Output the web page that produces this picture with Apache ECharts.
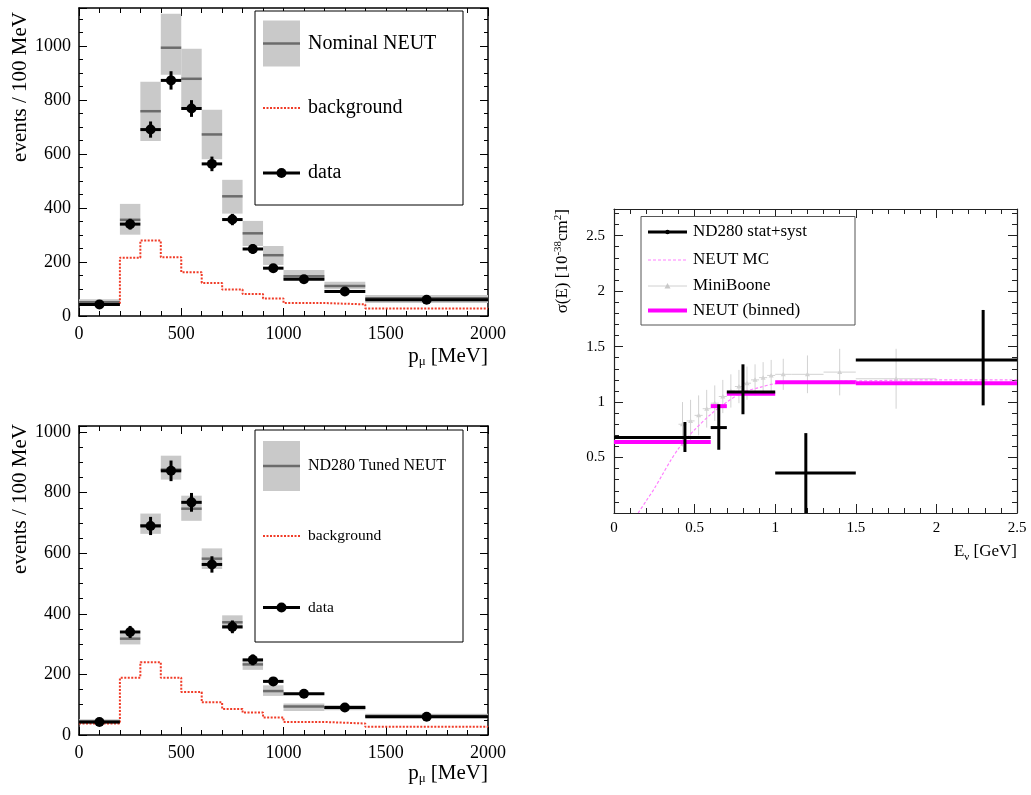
<!DOCTYPE html>
<html>
<head>
<meta charset="utf-8">
<script src="https://cdn.jsdelivr.net/npm/echarts@6/dist/echarts.min.js"></script>
<style>
  html, body { margin: 0; padding: 0; background: #ffffff; }
  #chart { width: 1031px; height: 795px; }
</style>
</head>
<body>
<div id="chart"></div>
<script>
// ---- muon momentum histograms (MeV), bins of the selected sample ----
const binEdges = [0, 200, 300, 400, 500, 600, 700, 800, 900, 1000, 1200, 1400, 2000];

// measured events per bin and their statistical errors
const dataCounts = [43, 340, 690, 872, 768, 563, 357, 248, 177, 136, 91, 60];
const dataErrors = [7, 20, 30, 34, 31, 27, 21, 18, 13, 12, 10, 8];

// nominal NEUT prediction with its systematic band
const nominalNeut = [51, 356, 758, 993, 878, 672, 443, 306, 225, 147, 111, 66];
const nominalLow  = [40, 301, 648, 893, 772, 580, 379, 259, 189, 133, 99, 48];
const nominalHigh = [62, 415, 867, 1119, 989, 763, 504, 352, 259, 170, 127, 78];
const nominalBackground = [41, 216, 279, 217, 162, 122, 98, 81, 65, 48, 43, 28];

// ND280-tuned NEUT prediction with its band
const tunedNeut = [44, 318, 692, 876, 747, 582, 372, 233, 145, 94, 90, 63];
const tunedLow  = [36, 299, 664, 843, 707, 548, 350, 215, 129, 79, 82, 55];
const tunedHigh = [52, 335, 731, 922, 790, 616, 395, 249, 164, 104, 99, 70];
const tunedBackground = [38, 189, 240, 189, 142, 108, 86, 74, 58, 43, 38, 27];

// ---- cross section vs neutrino energy (GeV, 1e-38 cm^2) ----
const nd280BinLow  = [0.0, 0.6, 0.7, 1.0, 1.5];
const nd280BinHigh = [0.6, 0.7, 1.0, 1.5, 2.5];
const nd280Energy  = [0.44, 0.65, 0.80, 1.19, 2.29];
const nd280Sigma   = [0.68, 0.77, 1.09, 0.36, 1.38];
const nd280ErrUp   = [0.14, 0.21, 0.25, 0.36, 0.45];
const nd280ErrDown = [0.13, 0.20, 0.20, 0.36, 0.41];

const neutBinnedEdges = [0.0, 0.6, 0.7, 1.0, 1.5, 2.5];
const neutBinnedSigma = [0.64, 0.963, 1.075, 1.178, 1.17];

const neutMcEnergy = [0.15, 0.2, 0.25, 0.3, 0.35, 0.4, 0.45, 0.5, 0.6, 0.7, 0.8, 0.9, 1.0, 1.2, 1.5, 2.0, 2.5];
const neutMcSigma  = [0.0, 0.11, 0.22, 0.345, 0.47, 0.58, 0.67, 0.75, 0.89, 1.0, 1.09, 1.13, 1.165, 1.18, 1.19, 1.2, 1.2];

const mbBinEdges = [0.4, 0.45, 0.5, 0.55, 0.6, 0.65, 0.7, 0.75, 0.8, 0.85, 0.9, 0.95, 1.0, 1.1, 1.3, 1.5, 2.0];
const mbSigma = [0.80, 0.83, 0.88, 0.94, 0.99, 1.05, 1.10, 1.14, 1.17, 1.20, 1.22, 1.24, 1.25, 1.25, 1.27, 1.21];
const mbError = [0.20, 0.19, 0.18, 0.17, 0.16, 0.15, 0.15, 0.15, 0.15, 0.14, 0.14, 0.14, 0.14, 0.17, 0.21, 0.27];

const SERIF = "'Liberation Serif', 'DejaVu Serif', serif";
const MAGENTA = '#ff00ff';

// ---------- helpers that turn the arrays into series data ----------
function bandRows(central, low, high) {
  return central.map((c, i) => [binEdges[i], binEdges[i + 1], low[i], high[i], c]);
}
function stepRows(values) {
  const rows = values.map((v, i) => [binEdges[i], v]);
  rows.push([binEdges[binEdges.length - 1], values[values.length - 1]]);
  return rows;
}
function dataRows() {
  return dataCounts.map((v, i) => [binEdges[i], binEdges[i + 1], (binEdges[i] + binEdges[i + 1]) / 2, v, dataErrors[i], dataErrors[i]]);
}

function renderBand(params, api) {
  const x0 = api.value(0), x1 = api.value(1);
  const pTop = api.coord([x0, api.value(3)]);
  const pBot = api.coord([x1, api.value(2)]);
  const m0 = api.coord([x0, api.value(4)]);
  const m1 = api.coord([x1, api.value(4)]);
  return {
    type: 'group',
    children: [
      { type: 'rect', shape: { x: pTop[0], y: pTop[1], width: pBot[0] - pTop[0], height: pBot[1] - pTop[1] },
        style: { fill: '#c9c9c9' } },
      { type: 'line', shape: { x1: m0[0], y1: m0[1], x2: m1[0], y2: m1[1] },
        style: { stroke: '#6b6b6b', lineWidth: 2.5 } }
    ]
  };
}

function crossRenderer(color, width, markerR, markerShape) {
  return function (params, api) {
    const xl = api.value(0), xh = api.value(1), xc = api.value(2);
    const y = api.value(3), eDown = api.value(4), eUp = api.value(5);
    const a = api.coord([xl, y]), b = api.coord([xh, y]);
    const top = api.coord([xc, y + eUp]), bot = api.coord([xc, y - eDown]);
    const c = api.coord([xc, y]);
    const children = [
      { type: 'line', shape: { x1: a[0], y1: a[1], x2: b[0], y2: b[1] }, style: { stroke: color, lineWidth: width } },
      { type: 'line', shape: { x1: top[0], y1: top[1], x2: bot[0], y2: bot[1] }, style: { stroke: color, lineWidth: width } }
    ];
    if (markerShape === 'circle') {
      children.push({ type: 'circle', shape: { cx: c[0], cy: c[1], r: markerR }, style: { fill: color } });
    } else if (markerShape === 'triangle') {
      children.push({ type: 'polygon', shape: { points: [[c[0], c[1] - markerR], [c[0] - markerR, c[1] + markerR * 0.8], [c[0] + markerR, c[1] + markerR * 0.8]] },
        style: { fill: color } });
    }
    return { type: 'group', children: children };
  };
}

function renderSegment(params, api) {
  const a = api.coord([api.value(0), api.value(2)]);
  const b = api.coord([api.value(1), api.value(2)]);
  return { type: 'line', shape: { x1: a[0], y1: a[1], x2: b[0], y2: b[1] }, style: { stroke: MAGENTA, lineWidth: 4 } };
}

// ---------- axes: labelled bottom/left, mirrored ticks on top/right ----------
function axis(gridIndex, position, cfg, labelled) {
  return {
    type: 'value', gridIndex: gridIndex, position: position,
    min: cfg.min, max: cfg.max, interval: cfg.interval,
    splitLine: { show: false },
    axisLine: { show: true, onZero: false, lineStyle: { color: cfg.color, width: cfg.lineWidth } },
    axisTick: { show: true, inside: true, length: cfg.tick, lineStyle: { color: cfg.color, width: 1 } },
    minorTick: { show: true, splitNumber: cfg.minor, length: cfg.minorTick, lineStyle: { color: cfg.color, width: 1 } },
    axisLabel: {
      show: labelled, color: '#000', fontFamily: SERIF, fontSize: cfg.fontSize, margin: cfg.margin,
      showMaxLabel: cfg.showMax, formatter: cfg.formatter || (v => String(v))
    }
  };
}

const histX = { min: 0, max: 2000, interval: 500, minor: 5, tick: 8, minorTick: 5, color: '#000', lineWidth: 1.5, fontSize: 18, margin: 9, showMax: true };
const topY = { min: 0, max: 1140, interval: 200, minor: 4, tick: 8, minorTick: 4, color: '#000', lineWidth: 1.5, fontSize: 18, margin: 8, showMax: false };
const botY = { min: 0, max: 1020, interval: 200, minor: 4, tick: 8, minorTick: 4, color: '#000', lineWidth: 1.5, fontSize: 18, margin: 8, showMax: false };
const xsecX = { min: 0, max: 2.5, interval: 0.5, minor: 5, tick: 9, minorTick: 5, color: '#222', lineWidth: 1.2, fontSize: 15, margin: 8, showMax: true };
const xsecY = { min: 0, max: 2.74, interval: 0.5, minor: 5, tick: 9, minorTick: 5, color: '#222', lineWidth: 1.2, fontSize: 15, margin: 9, showMax: false,
  formatter: v => (v === 0 ? '' : String(v)) };

// ---------- legends and axis titles ----------
function legendBlock(top, height, label, labelSize, otherSize, rowY, boxH) {
  return [
    { type: 'rect', shape: { x: 255, y: top, width: 208, height: height }, style: { fill: '#fff', stroke: '#000', lineWidth: 1 }, z: 10 },
    { type: 'rect', shape: { x: 263, y: rowY[0] - boxH / 2, width: 37, height: boxH }, style: { fill: '#c9c9c9' }, z: 11 },
    { type: 'line', shape: { x1: 263, y1: rowY[0], x2: 300, y2: rowY[0] }, style: { stroke: '#6b6b6b', lineWidth: 2.5 }, z: 12 },
    { type: 'text', x: 308, y: rowY[0], style: { text: label, fontFamily: SERIF, fontSize: labelSize, fill: '#000', verticalAlign: 'middle' }, z: 12 },
    { type: 'line', shape: { x1: 263, y1: rowY[1], x2: 300, y2: rowY[1] }, style: { stroke: '#f03c28', lineWidth: 2, lineDash: [2, 1.5] }, z: 12 },
    { type: 'text', x: 308, y: rowY[1], style: { text: 'background', fontFamily: SERIF, fontSize: otherSize, fill: '#000', verticalAlign: 'middle' }, z: 12 },
    { type: 'line', shape: { x1: 263, y1: rowY[2], x2: 300, y2: rowY[2] }, style: { stroke: '#000', lineWidth: 3 }, z: 12 },
    { type: 'circle', shape: { cx: 281.5, cy: rowY[2], r: 5 }, style: { fill: '#000' }, z: 12 },
    { type: 'text', x: 308, y: rowY[2], style: { text: 'data', fontFamily: SERIF, fontSize: otherSize, fill: '#000', verticalAlign: 'middle' }, z: 12 }
  ];
}

const subRich = {
  t: { fontFamily: SERIF, fontSize: 21, fill: '#000', lineHeight: 25 },
  s: { fontFamily: SERIF, fontSize: 13, fill: '#000', lineHeight: 13, verticalAlign: 'bottom' }
};
const smallRich = {
  t: { fontFamily: SERIF, fontSize: 17, fill: '#000', lineHeight: 21 },
  s: { fontFamily: SERIF, fontSize: 11, fill: '#000', lineHeight: 11, verticalAlign: 'bottom' },
  u: { fontFamily: SERIF, fontSize: 11, fill: '#000', lineHeight: 11, verticalAlign: 'top' }
};

const graphics = []
  .concat(legendBlock(11, 194, 'Nominal NEUT', 20, 20, [43.5, 108, 173], 46))
  .concat(legendBlock(430, 212, 'ND280 Tuned NEUT', 16, 15.5, [466, 536, 607.5], 50))
  .concat([
    // axis titles of the momentum panels
    { type: 'text', x: 20, y: 12, rotation: Math.PI / 2,
      style: { text: 'events / 100 MeV', fontFamily: SERIF, fontSize: 21, fill: '#000', align: 'right', verticalAlign: 'middle' } },
    { type: 'text', x: 20, y: 424, rotation: Math.PI / 2,
      style: { text: 'events / 100 MeV', fontFamily: SERIF, fontSize: 21, fill: '#000', align: 'right', verticalAlign: 'middle' } },
    { type: 'text', x: 488, y: 356,
      style: { text: '{t|p}{s|μ}{t| [MeV]}', rich: subRich, align: 'right', verticalAlign: 'middle' } },
    { type: 'text', x: 488, y: 773,
      style: { text: '{t|p}{s|μ}{t| [MeV]}', rich: subRich, align: 'right', verticalAlign: 'middle' } },
    // axis titles of the cross-section panel
    { type: 'text', x: 563, y: 209, rotation: Math.PI / 2,
      style: { text: '{t|σ(E) [10}{u|-38}{t|cm}{u|2}{t|]}', rich: smallRich, align: 'right', verticalAlign: 'middle' } },
    { type: 'text', x: 1017, y: 552,
      style: { text: '{t|E}{s|ν}{t| [GeV]}', rich: smallRich, align: 'right', verticalAlign: 'middle' } },
    // legend of the cross-section panel
    { type: 'rect', shape: { x: 641, y: 216.5, width: 214, height: 108.5 }, style: { fill: '#fff', stroke: '#555', lineWidth: 1 }, z: 10 },
    { type: 'line', shape: { x1: 648, y1: 232, x2: 687, y2: 232 }, style: { stroke: '#000', lineWidth: 3 }, z: 11 },
    { type: 'circle', shape: { cx: 667.5, cy: 232, r: 2.2 }, style: { fill: '#000' }, z: 12 },
    { type: 'text', x: 693, y: 232, style: { text: 'ND280 stat+syst', fontFamily: SERIF, fontSize: 17, fill: '#000', verticalAlign: 'middle' }, z: 11 },
    { type: 'line', shape: { x1: 648, y1: 260, x2: 687, y2: 260 }, style: { stroke: '#ff80ff', lineWidth: 1.2, lineDash: [3, 2] }, z: 11 },
    { type: 'text', x: 693, y: 260, style: { text: 'NEUT MC', fontFamily: SERIF, fontSize: 17, fill: '#000', verticalAlign: 'middle' }, z: 11 },
    { type: 'line', shape: { x1: 648, y1: 286, x2: 687, y2: 286 }, style: { stroke: '#d0d0d0', lineWidth: 1 }, z: 11 },
    { type: 'polygon', shape: { points: [[667.5, 283], [664.5, 288.5], [670.5, 288.5]] }, style: { fill: '#c8c8c8' }, z: 12 },
    { type: 'text', x: 693, y: 286, style: { text: 'MiniBoone', fontFamily: SERIF, fontSize: 17, fill: '#000', verticalAlign: 'middle' }, z: 11 },
    { type: 'line', shape: { x1: 648, y1: 310.5, x2: 687, y2: 310.5 }, style: { stroke: MAGENTA, lineWidth: 4 }, z: 11 },
    { type: 'text', x: 693, y: 310.5, style: { text: 'NEUT (binned)', fontFamily: SERIF, fontSize: 17, fill: '#000', verticalAlign: 'middle' }, z: 11 }
  ]);

const option = {
  backgroundColor: '#ffffff',
  animation: false,
  grid: [
    { left: 79, top: 8, width: 409, height: 308, outerBoundsMode: 'none' },
    { left: 79, top: 426, width: 409, height: 309, outerBoundsMode: 'none' },
    { left: 614, top: 209, width: 403, height: 304, outerBoundsMode: 'none' }
  ],
  xAxis: [
    axis(0, 'bottom', histX, true), axis(0, 'top', histX, false),
    axis(1, 'bottom', histX, true), axis(1, 'top', histX, false),
    axis(2, 'bottom', xsecX, true), axis(2, 'top', xsecX, false)
  ],
  yAxis: [
    axis(0, 'left', topY, true), axis(0, 'right', topY, false),
    axis(1, 'left', botY, true), axis(1, 'right', botY, false),
    axis(2, 'left', xsecY, true), axis(2, 'right', xsecY, false)
  ],
  graphic: graphics,
  series: [
    // nominal NEUT panel
    { type: 'custom', xAxisIndex: 0, yAxisIndex: 0, clip: true, z: 1, renderItem: renderBand,
      data: bandRows(nominalNeut, nominalLow, nominalHigh) },
    { type: 'line', xAxisIndex: 0, yAxisIndex: 0, step: 'end', symbol: 'none', z: 2,
      lineStyle: { color: '#f03c28', width: 2, type: [2, 1.5] }, data: stepRows(nominalBackground) },
    { type: 'custom', xAxisIndex: 0, yAxisIndex: 0, clip: true, z: 3, renderItem: crossRenderer('#000', 3, 5, 'circle'),
      data: dataRows() },
    // tuned NEUT panel
    { type: 'custom', xAxisIndex: 2, yAxisIndex: 2, clip: true, z: 1, renderItem: renderBand,
      data: bandRows(tunedNeut, tunedLow, tunedHigh) },
    { type: 'line', xAxisIndex: 2, yAxisIndex: 2, step: 'end', symbol: 'none', z: 2,
      lineStyle: { color: '#f03c28', width: 2, type: [2, 1.5] }, data: stepRows(tunedBackground) },
    { type: 'custom', xAxisIndex: 2, yAxisIndex: 2, clip: true, z: 3, renderItem: crossRenderer('#000', 3, 5, 'circle'),
      data: dataRows() },
    // cross-section panel
    { type: 'custom', xAxisIndex: 4, yAxisIndex: 4, clip: true, z: 1, renderItem: crossRenderer('#d2d2d2', 1, 2.5, 'triangle'),
      data: mbSigma.map((s, i) => [mbBinEdges[i], mbBinEdges[i + 1], (mbBinEdges[i] + mbBinEdges[i + 1]) / 2, s, mbError[i], mbError[i]]) },
    { type: 'line', xAxisIndex: 4, yAxisIndex: 4, symbol: 'none', smooth: 0.3, z: 2,
      lineStyle: { color: '#ff80ff', width: 1.2, type: [3, 2] },
      data: neutMcEnergy.map((e, i) => [e, neutMcSigma[i]]) },
    { type: 'custom', xAxisIndex: 4, yAxisIndex: 4, clip: true, z: 3, renderItem: renderSegment,
      data: neutBinnedSigma.map((s, i) => [neutBinnedEdges[i], neutBinnedEdges[i + 1], s]) },
    { type: 'custom', xAxisIndex: 4, yAxisIndex: 4, clip: true, z: 4, renderItem: crossRenderer('#000', 3, 0, 'none'),
      data: nd280Sigma.map((s, i) => [nd280BinLow[i], nd280BinHigh[i], nd280Energy[i], s, nd280ErrDown[i], nd280ErrUp[i]]) }
  ]
};

const chart = echarts.init(document.getElementById('chart'), null, { renderer: 'canvas', width: 1031, height: 795 });
chart.setOption(option);
</script>
</body>
</html>
